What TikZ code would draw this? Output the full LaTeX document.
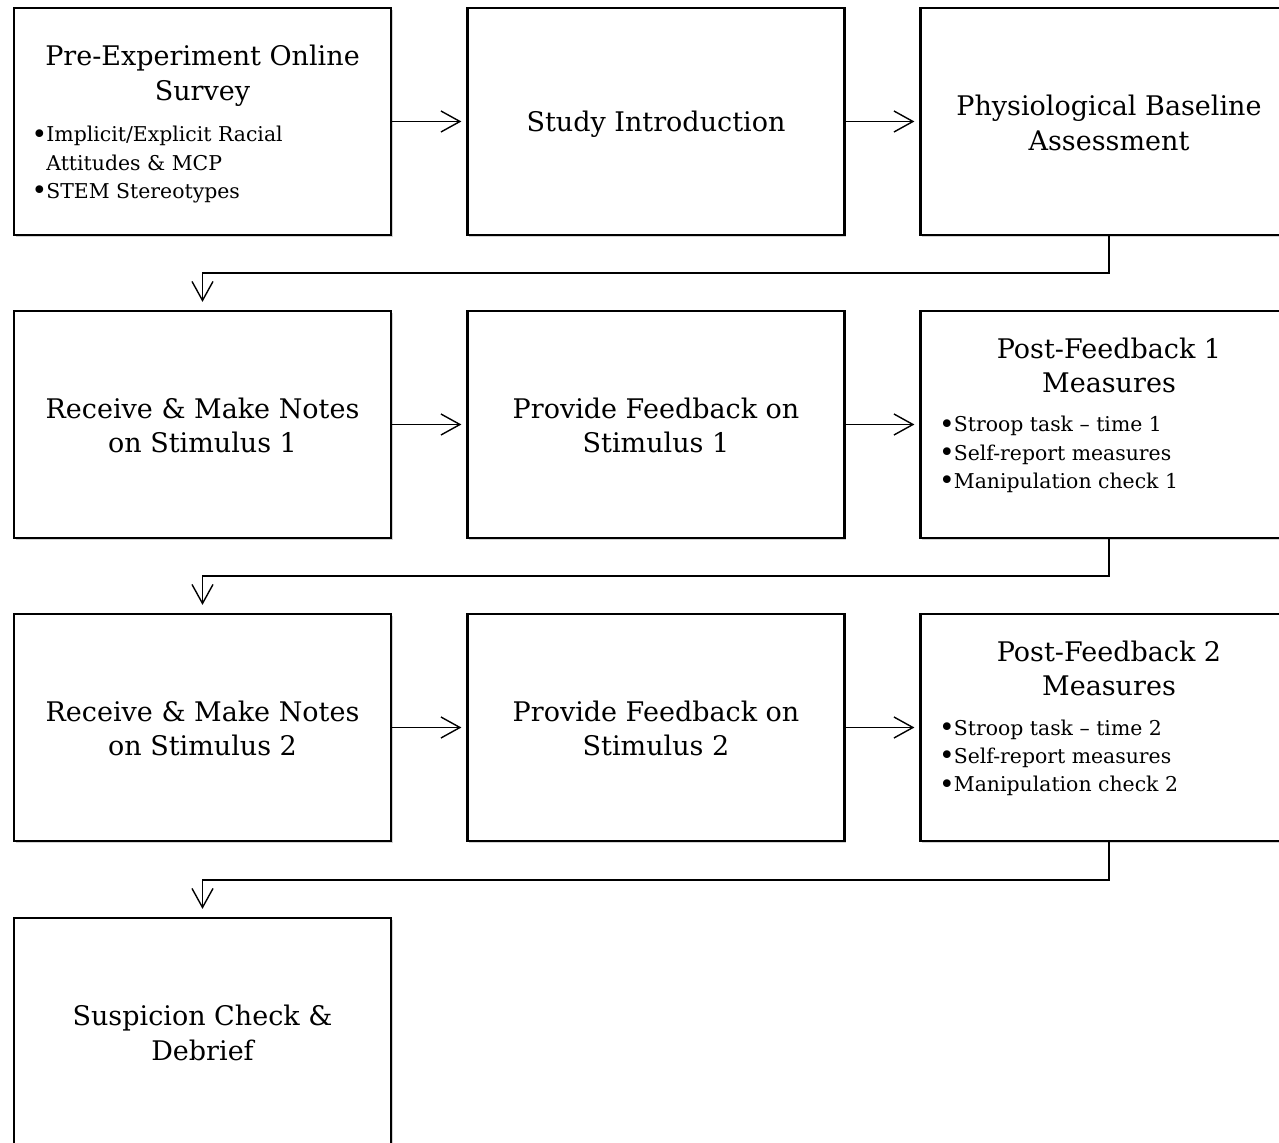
\documentclass[tikz,border=0pt]{standalone}
\usepackage{fontspec}
\setmainfont{DejaVu Serif}
\usetikzlibrary{arrows.meta,shadows}
% bullet with a fixed-width slot in front of each list item
\newcommand\itm{\makebox[7pt][c]{\raisebox{-0.8pt}{\scalebox{1.3}{•}}}}
\begin{document}
\begin{tikzpicture}[x=0.5pt,y=-0.5pt,
  stage/.style={draw=black, line width=1.1pt, fill=white,
    minimum width=188.5pt, minimum height=113.5pt, inner sep=0pt,
    drop shadow={shadow xshift=0.8pt, shadow yshift=-1pt, opacity=0.35}},
  title/.style={align=center, inner sep=0pt, font=\fontsize{13.5}{17.25}\selectfont},
  items/.style={anchor=base west, inner sep=0pt, font=\fontsize{10.2}{14.1}\selectfont},
  flow/.style={line width=0.7pt,
    -{Straight Barb[length=9.5pt,width=10.5pt,line width=0.7pt]}}]
\useasboundingbox (0,0) rectangle (1279,1143);

% stage boxes
\node[stage] (b11) at (202.5,121.5) {};
\node[stage] (b12) at (656,121.5) {};
\node[stage] (b13) at (1109,121.5) {};
\node[stage] (b21) at (202.5,424.5) {};
\node[stage] (b22) at (656,424.5) {};
\node[stage] (b23) at (1109,424.5) {};
\node[stage] (b31) at (202.5,727.5) {};
\node[stage] (b32) at (656,727.5) {};
\node[stage] (b33) at (1109,727.5) {};
\node[stage] (b41) at (202.5,1031.5) {};

% box texts
\node[title] (t11) at (202.5,76) {Pre-Experiment Online\\Survey};
\node[items] (l11) at (32,142) {\begin{tabular}[t]{@{}l@{}l@{}}
  \itm&Implicit/Explicit Racial\\&Attitudes \& MCP\\\itm&STEM Stereotypes\end{tabular}};
\node[title] (t12) at (656,124) {Study Introduction};
\node[title] (t13) at (1109,123) {Physiological Baseline\\Assessment};

\node[title] (t21) at (202.5,425.5) {Receive \& Make Notes\\on Stimulus 1};
\node[title] (t22) at (656,425.5) {Provide Feedback on\\Stimulus 1};
\node[title] (t23) at (1109,365.5) {Post-Feedback 1\\Measures};
\node[items] (l23) at (939.5,432) {\begin{tabular}[t]{@{}l@{}l@{}}
  \itm&Stroop task – time 1\\\itm&Self-report measures\\\itm&Manipulation check 1\end{tabular}};

\node[title] (t31) at (202.5,728.5) {Receive \& Make Notes\\on Stimulus 2};
\node[title] (t32) at (656,728.5) {Provide Feedback on\\Stimulus 2};
\node[title] (t33) at (1109,668.5) {Post-Feedback 2\\Measures};
\node[items] (l33) at (939.5,735) {\begin{tabular}[t]{@{}l@{}l@{}}
  \itm&Stroop task – time 2\\\itm&Self-report measures\\\itm&Manipulation check 2\end{tabular}};

\node[title] (t41) at (202.5,1033) {Suspicion Check \&\\Debrief};

% connectors within rows
\draw[flow, shorten >=2.5pt] (b11) -- (b12);
\draw[flow, shorten >=2.5pt] (b12) -- (b13);
\draw[flow, shorten >=2.5pt] (b21) -- (b22);
\draw[flow, shorten >=2.5pt] (b22) -- (b23);
\draw[flow, shorten >=2.5pt] (b31) -- (b32);
\draw[flow, shorten >=2.5pt] (b32) -- (b33);

% connectors between rows
\draw[flow, shorten >=4pt] (b13.south) -- ++(0,37) -| (b21.north);
\draw[flow, shorten >=4pt] (b23.south) -- ++(0,37) -| (b31.north);
\draw[flow, shorten >=4pt] (b33.south) -- ++(0,38) -| (b41.north);
\end{tikzpicture}
\end{document}
